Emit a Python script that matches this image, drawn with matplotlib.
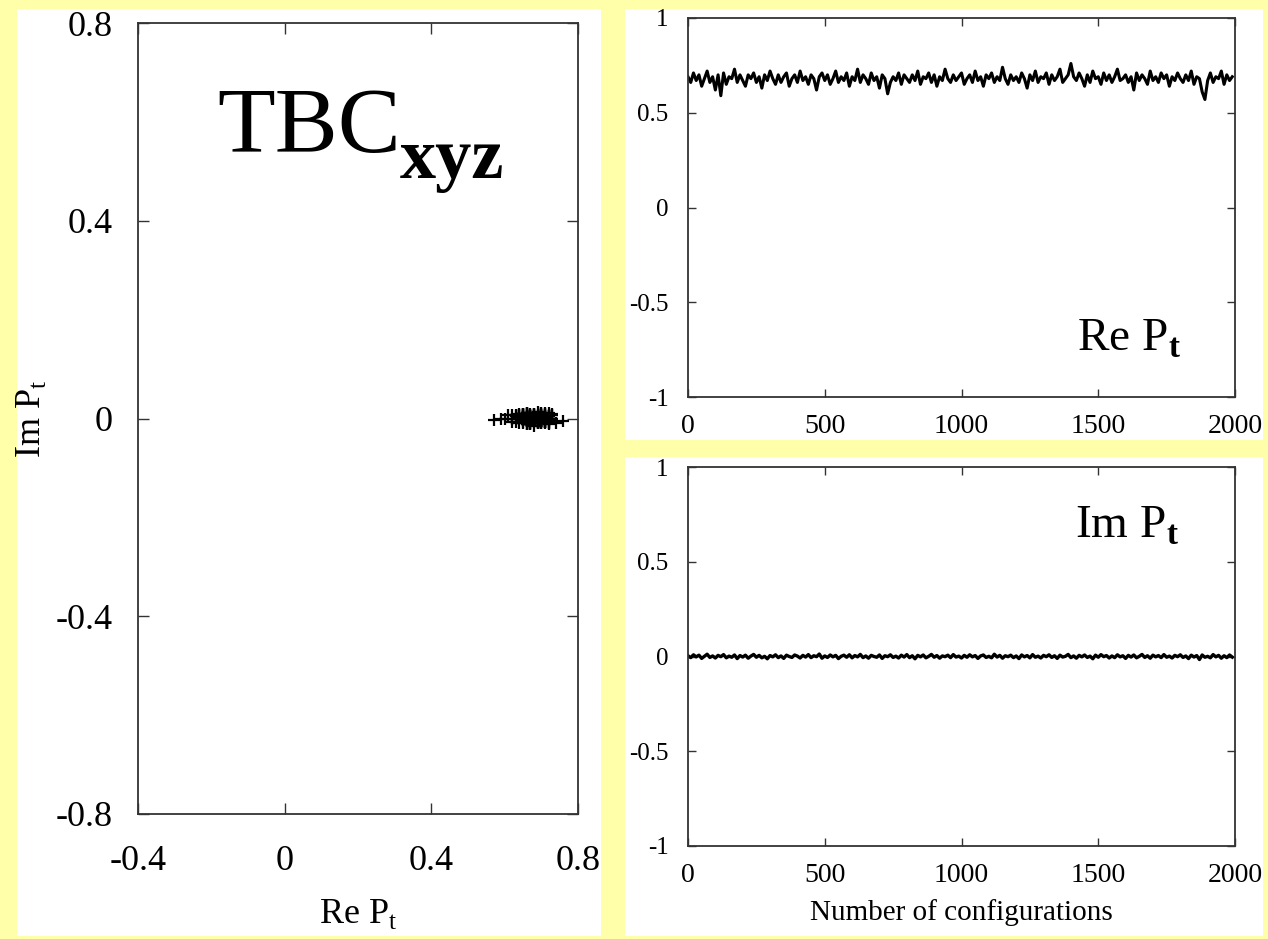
import numpy as np
import matplotlib
matplotlib.use("Agg")
import matplotlib.pyplot as plt
from matplotlib.patches import Rectangle

plt.rcParams['font.family'] = ['Liberation Serif', 'DejaVu Serif']
plt.rcParams['mathtext.fontset'] = 'custom'
plt.rcParams['mathtext.rm'] = 'Liberation Serif'
plt.rcParams['mathtext.bf'] = 'Liberation Serif:bold'
plt.rcParams['axes.unicode_minus'] = False

# Polyakov loop history, one value every 10 configurations
re_pt = [0.69, 0.66, 0.71, 0.67, 0.70, 0.64, 0.68, 0.72, 0.66, 0.69, 0.62, 0.70, 0.59, 0.71, 0.65, 0.69, 0.68, 0.73, 0.66, 0.70,
         0.67, 0.64, 0.70, 0.68, 0.71, 0.66, 0.69, 0.63, 0.70, 0.67, 0.72, 0.68, 0.65, 0.70, 0.66, 0.69, 0.71, 0.64, 0.68, 0.70,
         0.66, 0.72, 0.67, 0.69, 0.65, 0.70, 0.68, 0.62, 0.69, 0.71, 0.67, 0.70, 0.65, 0.68, 0.72, 0.66, 0.69, 0.67, 0.71, 0.64,
         0.69, 0.67, 0.73, 0.66, 0.70, 0.68, 0.65, 0.71, 0.67, 0.69, 0.63, 0.70, 0.68, 0.60, 0.66, 0.69, 0.67, 0.71, 0.65, 0.70,
         0.68, 0.66, 0.70, 0.67, 0.72, 0.65, 0.69, 0.68, 0.71, 0.66, 0.70, 0.64, 0.69, 0.67, 0.73, 0.68, 0.66, 0.70, 0.67, 0.69,
         0.71, 0.65, 0.68, 0.70, 0.66, 0.72, 0.67, 0.69, 0.64, 0.70, 0.68, 0.71, 0.66, 0.69, 0.67, 0.74, 0.68, 0.65, 0.70, 0.67,
         0.69, 0.66, 0.71, 0.68, 0.63, 0.70, 0.67, 0.72, 0.66, 0.69, 0.68, 0.71, 0.65, 0.70, 0.67, 0.69, 0.73, 0.66, 0.68, 0.70,
         0.76, 0.69, 0.67, 0.71, 0.68, 0.64, 0.70, 0.66, 0.72, 0.68, 0.69, 0.65, 0.71, 0.67, 0.70, 0.66, 0.69, 0.73, 0.67, 0.68,
         0.70, 0.66, 0.69, 0.62, 0.71, 0.67, 0.70, 0.68, 0.65, 0.72, 0.67, 0.69, 0.66, 0.71, 0.68, 0.70, 0.64, 0.69, 0.67, 0.71,
         0.68, 0.66, 0.70, 0.67, 0.72, 0.65, 0.69, 0.68, 0.61, 0.57, 0.67, 0.71, 0.66, 0.69, 0.68, 0.72, 0.65, 0.70, 0.67, 0.69]

im_pt = [0.004, -0.006, 0.009, -0.002, 0.007, -0.010, 0.001, 0.012, -0.005, 0.003, -0.008, 0.006, -0.001, 0.010, -0.007, 0.002, -0.004, 0.008, -0.011, 0.005,
         -0.003, 0.007, -0.009, 0.002, 0.011, -0.004, 0.006, -0.007, 0.001, -0.012, 0.005, -0.002, 0.009, -0.006, 0.003, -0.010, 0.007, 0.000, -0.005, 0.008,
         0.002, -0.008, 0.006, -0.003, 0.010, -0.006, 0.004, -0.001, 0.013, -0.009, 0.003, -0.005, 0.008, -0.002, 0.006, -0.011, 0.001, 0.007, -0.004, 0.009,
         -0.007, 0.005, -0.002, 0.011, -0.006, 0.003, -0.009, 0.006, 0.000, -0.004, 0.008, -0.010, 0.004, -0.001, 0.009, -0.005, 0.002, -0.008, 0.007, -0.003,
         0.010, -0.006, 0.004, -0.012, 0.006, -0.002, 0.008, -0.007, 0.001, 0.011, -0.004, 0.005, -0.009, 0.003, -0.001, 0.007, -0.006, 0.010, -0.003, 0.002,
         -0.008, 0.006, -0.004, 0.009, -0.002, 0.005, -0.010, 0.003, 0.008, -0.005, 0.001, -0.007, 0.012, -0.003, 0.006, -0.009, 0.004, -0.001, 0.007, -0.006,
         0.003, -0.011, 0.008, -0.002, 0.005, -0.007, 0.010, -0.004, 0.002, -0.008, 0.006, -0.001, 0.009, -0.005, 0.004, -0.010, 0.007, -0.003, 0.001, 0.011,
         -0.006, 0.003, -0.009, 0.006, -0.002, 0.008, -0.005, 0.002, -0.012, 0.007, -0.004, 0.010, -0.001, 0.005, -0.008, 0.003, -0.006, 0.009, -0.002, 0.004,
         -0.010, 0.006, -0.003, 0.008, -0.007, 0.001, 0.011, -0.005, 0.004, -0.009, 0.007, -0.002, 0.005, -0.006, 0.010, -0.004, 0.002, -0.008, 0.006, -0.001,
         0.009, -0.005, 0.003, -0.011, 0.007, -0.003, 0.005, -0.016, 0.008, -0.004, 0.001, -0.007, 0.010, -0.002, 0.006, -0.009, 0.004, -0.006, 0.008, -0.003]

configs = np.arange(len(re_pt)) * 10

fig = plt.figure(figsize=(12.68, 9.39), dpi=100, facecolor='#FFFFAA')

# white panels behind each plot
W, H = 1268.0, 939.0
for x0, y0, x1, y1 in [(17, 9, 601, 936), (625, 9, 1263, 440), (625, 457, 1263, 936)]:
    fig.add_artist(Rectangle((x0 / W, 1 - y1 / H), (x1 - x0) / W, (y1 - y0) / H,
                             transform=fig.transFigure, facecolor='white',
                             edgecolor='none', zorder=0))

def style(ax, size, length):
    ax.set_facecolor('white')
    ax.tick_params(direction='in', top=True, right=True, length=length,
                   width=1.0, labelsize=size, color='#333333')
    for s in ax.spines.values():
        s.set_linewidth(1.3)
        s.set_color('#333333')

# left: scatter of Re vs Im
ax1 = fig.add_axes([138 / W, 1 - 814 / H, 440 / W, 791 / H])
ax1.plot(re_pt, im_pt, '+', color='black', markersize=9, mew=1.6)
ax1.set_xlim(-0.4, 0.8)
ax1.set_ylim(-0.8, 0.8)
ax1.set_xticks([-0.4, 0, 0.4, 0.8])
ax1.set_xticklabels(['-0.4', '0', '0.4', '0.8'])
ax1.set_yticks([-0.8, -0.4, 0, 0.4, 0.8])
ax1.set_yticklabels(['-0.8', '-0.4', '0', '0.4', '0.8'])
style(ax1, 26, 8)
ax1.tick_params(axis='x', pad=22)
ax1.tick_params(axis='y', pad=18)
ax1.set_xlabel(r'Re P$_\mathrm{t}$', fontsize=26, labelpad=14)
ax1.set_ylabel(r'Im P$_\mathrm{t}$', fontsize=26, labelpad=6)
ax1.text(0.18, 0.837, 'TBC', transform=ax1.transAxes, fontsize=68,
         ha='left', va='baseline')
ax1.text(0.596, 0.804, 'xyz', transform=ax1.transAxes, fontsize=52,
         fontweight='bold', ha='left', va='baseline')

# top right: Re P_t history
ax2 = fig.add_axes([688 / W, 1 - 397 / H, 547 / W, 379 / H])
ax2.plot(configs, re_pt, color='black', lw=2.2)
# bottom right: Im P_t history
ax3 = fig.add_axes([688 / W, 1 - 846 / H, 547 / W, 379 / H])
ax3.plot(configs, im_pt, color='black', lw=2.4)

for ax in (ax2, ax3):
    ax.set_xlim(0, 2000)
    ax.set_ylim(-1, 1)
    ax.set_xticks([0, 500, 1000, 1500, 2000])
    ax.set_yticks([-1, -0.5, 0, 0.5, 1])
    ax.set_yticklabels(['-1', '-0.5', '0', '0.5', '1'])
    style(ax, 18, 6)
    ax.tick_params(axis='x', pad=12, labelsize=20)
    ax.tick_params(axis='y', pad=14)

ax2.text(0.711, 0.124, r'Re P$_\mathbf{t}$', transform=ax2.transAxes, fontsize=34,
         ha='left', va='baseline')
ax3.text(0.707, 0.815, r'Im P$_\mathbf{t}$', transform=ax3.transAxes, fontsize=34,
         ha='left', va='baseline')
ax3.set_xlabel('Number of configurations', fontsize=21, labelpad=8)

fig.savefig('out.png', dpi=100, facecolor=fig.get_facecolor())
